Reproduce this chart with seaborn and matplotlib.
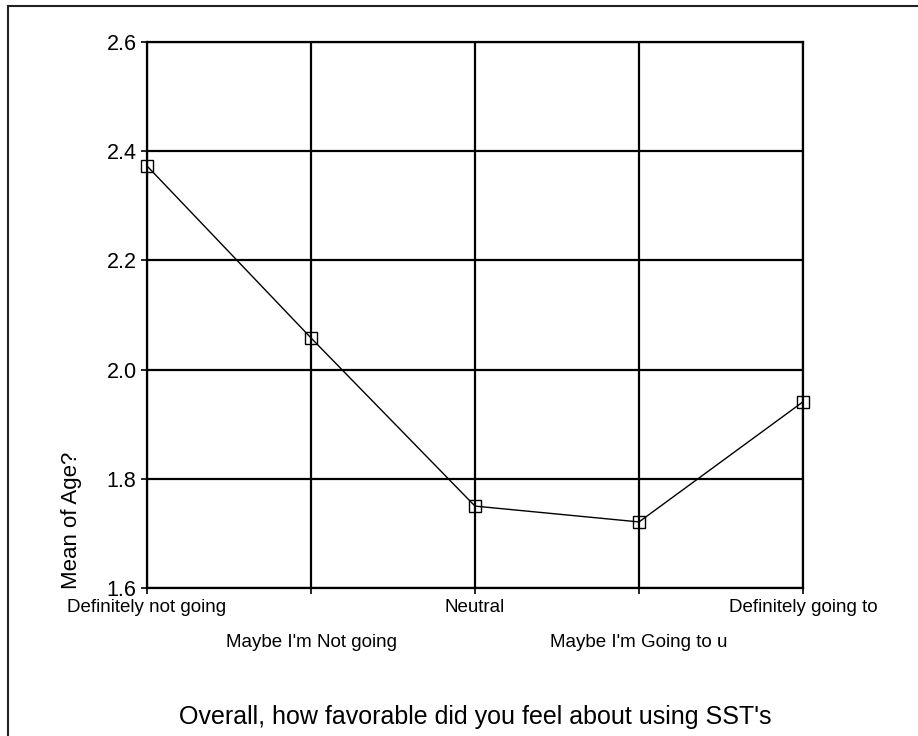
import matplotlib
matplotlib.use("Agg")
import matplotlib.pyplot as plt
from matplotlib.patches import Rectangle
import seaborn as sns
import pandas as pd

categories = ["Definitely not going", "Maybe I'm Not going", "Neutral",
              "Maybe I'm Going to u", "Definitely going to"]
mean_age = [2.373, 2.058, 1.750, 1.721, 1.941]
y_ticks = [1.6, 1.8, 2.0, 2.2, 2.4, 2.6]

sns.set_theme(style="white")
plt.rcParams['font.family'] = ['Liberation Sans', 'DejaVu Sans']

df = pd.DataFrame({"category": categories, "mean": mean_age})

fig = plt.figure(figsize=(9.18, 7.36), dpi=100)
ax = fig.add_axes([147/918, 1-588/736, (803-147)/918, (588-42)/736])

sns.lineplot(data=df, x="category", y="mean", ax=ax, color="black",
             linewidth=1.0, marker="s", markersize=9,
             markerfacecolor="none", markeredgecolor="black",
             markeredgewidth=1.0, sort=False, zorder=5, clip_on=False)

ax.set_xlim(0, len(categories) - 1)
ax.set_ylim(1.6, 2.6)
ax.set_yticks(y_ticks)
ax.set_yticklabels([f"{v:.1f}" for v in y_ticks], fontsize=15.5)
ax.set_xticks(range(len(categories)))
ax.set_xticklabels(categories, fontsize=13.5)
for i, t in enumerate(ax.xaxis.get_major_ticks()):
    t.set_pad(4 if i % 2 == 0 else 29)

ax.grid(True, color="black", linewidth=1.6)
ax.tick_params(axis="both", which="both", direction="out", length=4,
               width=1.2, color="black", labelcolor="black", bottom=True, left=True)
for s in ax.spines.values():
    s.set_visible(True)
    s.set_color("black")
    s.set_linewidth(1.6)

ax.set_xlabel("Overall, how favorable did you feel about using SST's", fontsize=18,
              color="black")
ax.xaxis.set_label_coords(0.5, -0.215)
ax.set_ylabel("")
fig.text(72/918, 1-520/736, "Mean of Age?", rotation=90, fontsize=16,
         ha="center", va="center", color="black")

fig.patches.append(Rectangle((8/918, -0.1), 1.2, 1.1 - 6/736,
                             transform=fig.transFigure, fill=False,
                             edgecolor="#222222", linewidth=1.5))

fig.savefig("out.png", dpi=100)
